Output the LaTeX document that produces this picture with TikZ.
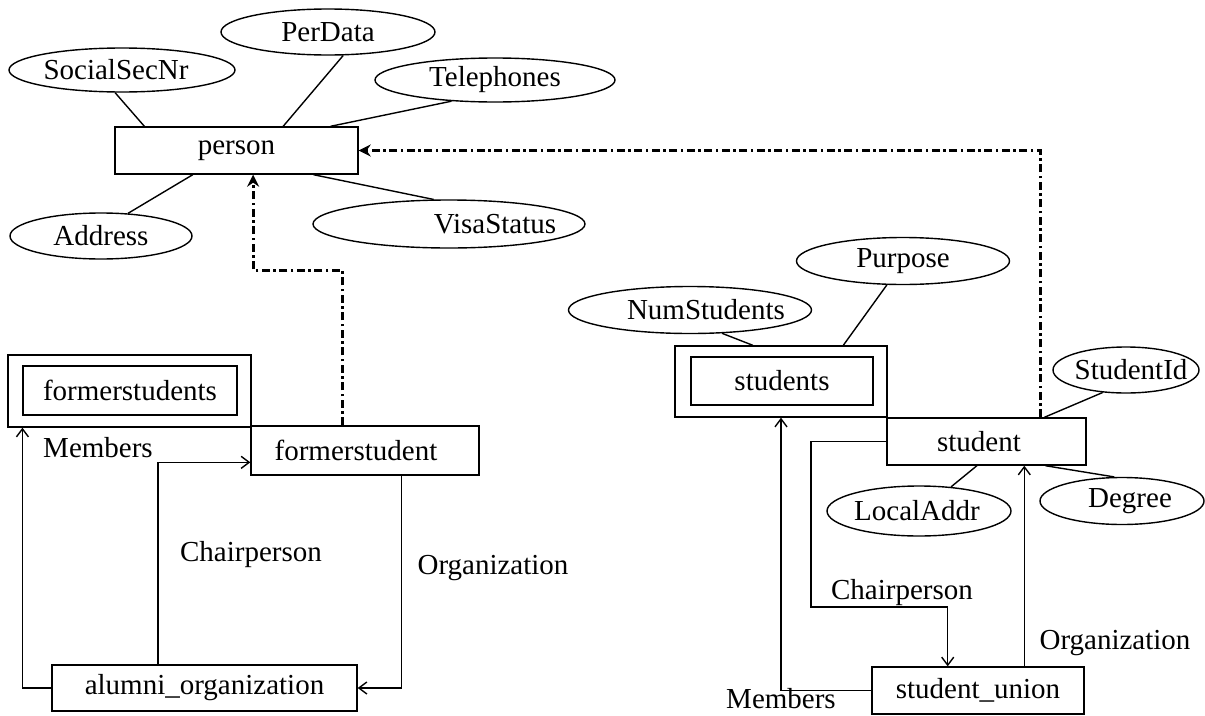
\documentclass[tikz,border=0pt]{standalone}
\usepackage{fontspec}
\setmainfont{Liberation Serif}
\usetikzlibrary{shapes.geometric,arrows.meta,calc}
% text box of zero width whose content is moved sideways by half of #1
\newcommand{\shifted}[2]{\makebox[0pt]{\hspace*{#1}#2}}
\begin{document}
\begin{tikzpicture}[x=1pt,y=-1pt,
  every node/.style={font=\fontsize{29}{32}\selectfont, inner sep=0pt},
  entity/.style={draw, rectangle, line width=1.4pt},
  attr/.style={draw, ellipse, line width=1.4pt},
  link/.style={line width=1.4pt},
  rel/.style={line width=1.4pt, -{Straight Barb[length=8pt,width=12pt]}},
  isa/.style={line width=3pt, dash pattern=on 8pt off 3.5pt on 2.5pt off 3.5pt,
              -{Stealth[length=12pt,width=12pt,inset=4pt]}}
]
\useasboundingbox (0,0) rectangle (1205,715);

% ---------- person and its attributes ----------
\node[entity, minimum width=243pt, minimum height=47pt] (person) at (236.5,150.5) {person};
\node[attr, minimum width=226pt, minimum height=44pt] (ssn) at (122,70) {\shifted{-12pt}{SocialSecNr}};
\node[attr, minimum width=214pt, minimum height=46pt] (perdata) at (328,32) {\shifted{0pt}{PerData}};
\node[attr, minimum width=240pt, minimum height=44pt] (tel) at (495,80) {\shifted{0pt}{Telephones}};
\node[attr, minimum width=182pt, minimum height=46pt] (address) at (101,236) {\shifted{0pt}{Address}};
\node[attr, minimum width=272pt, minimum height=48pt] (visa) at (449,224) {\shifted{92pt}{VisaStatus}};

\draw[link] (ssn.-107) -- ($(person.north west)!0.123!(person.north east)$);
\draw[link] (perdata.-57) -- ($(person.north west)!0.691!(person.north east)$);
\draw[link] (tel.-154) -- ($(person.north west)!0.885!(person.north east)$);
\draw[link] (address.40) -- ($(person.south west)!0.321!(person.south east)$);
\draw[link] (visa.122) -- ($(person.south west)!0.815!(person.south east)$);

% ---------- former students ----------
\node[entity, minimum width=243pt, minimum height=72pt] (fsOuter) at (129.5,391) {};
\node[entity, minimum width=214pt, minimum height=49pt] (fsInner) at (130,390.5) {formerstudents};
\node[entity, minimum width=228pt, minimum height=49pt] (formerstudent) at (365,450.5) {\shifted{-18pt}{formerstudent}};
\node[entity, minimum width=305pt, minimum height=46pt] (alumni) at (204.5,688) {alumni\_organization};

\node (lMembersL) at (98,448) {Members};
\node (lChairL) at (251,555) {Chairperson};
\node (lOrgL) at (493,568) {Organization};

\coordinate (fsOuterBot) at ($(fsOuter.south west)!0.062!(fsOuter.south east)$);
\draw[rel] (alumni.west) -| (fsOuterBot);
\coordinate (alTop) at ($(alumni.north west)!0.348!(alumni.north east)$);
\coordinate (fsLeft) at ($(formerstudent.north west)!0.735!(formerstudent.south west)$);
\draw[rel] (alTop) |- (fsLeft);
\coordinate (fsBot) at ($(formerstudent.south west)!0.658!(formerstudent.south east)$);
\draw[rel] (fsBot) |- (alumni.east);

% ---------- students ----------
\node[entity, minimum width=212pt, minimum height=71pt] (stOuter) at (781,381.5) {};
\node[entity, minimum width=182pt, minimum height=48pt] (stInner) at (782,381) {students};
\node[entity, minimum width=199pt, minimum height=47pt] (student) at (986.5,441.5) {\shifted{-15pt}{student}};
\node[entity, minimum width=212pt, minimum height=47pt] (union) at (978,690.5) {student\_union};

\node[attr, minimum width=243pt, minimum height=47pt] (numst) at (690,310) {\shifted{32pt}{NumStudents}};
\node[attr, minimum width=213pt, minimum height=47pt] (purpose) at (903,261) {\shifted{0pt}{Purpose}};
\node[attr, minimum width=146pt, minimum height=46pt] (studentid) at (1126,370) {\shifted{10pt}{StudentId}};
\node[attr, minimum width=184pt, minimum height=50pt] (localaddr) at (919,511) {\shifted{-4pt}{LocalAddr}};
\node[attr, minimum width=164pt, minimum height=47pt] (degree) at (1122,501) {\shifted{16pt}{Degree}};

\draw[link] (numst.-36) -- ($(stOuter.north west)!0.368!(stOuter.north east)$);
\draw[link] (purpose.-124) -- ($(stOuter.north west)!0.792!(stOuter.north east)$);
\draw[link] (studentid.-136) -- ($(student.north west)!0.789!(student.north east)$);
\draw[link] (localaddr.37) -- ($(student.south west)!0.452!(student.south east)$);
\draw[link] (degree.108) -- ($(student.south west)!0.794!(student.south east)$);

\node (lChairR) at (902,593) {Chairperson};
\node (lOrgR) at (1115,643) {Organization};
\node (lMembersR) at (781,699) {Members};

\draw[rel] (union.west) -| (stOuter.south);
\coordinate (cpBend) at (811,607);
\coordinate (unTopA) at ($(union.north west)!0.358!(union.north east)$);
\draw[rel] (student.west) -| (cpBend) -| (unTopA);
\coordinate (unTopB) at ($(union.north west)!0.717!(union.north east)$);
\draw[rel] (unTopB) -- (unTopB |- student.south);

% ---------- is-a links ----------
\coordinate (fsTop) at ($(formerstudent.north west)!0.4!(formerstudent.north east)$);
\coordinate (personBot) at ($(person.south west)!0.568!(person.south east)$);
\coordinate (isaBend) at (0,270);
\draw[isa] (fsTop) -- (fsTop |- isaBend) -- (personBot |- isaBend) -- (personBot);
\coordinate (stTop) at ($(student.north west)!0.769!(student.north east)$);
\draw[isa] (stTop) |- (person.east);
\end{tikzpicture}
\end{document}
